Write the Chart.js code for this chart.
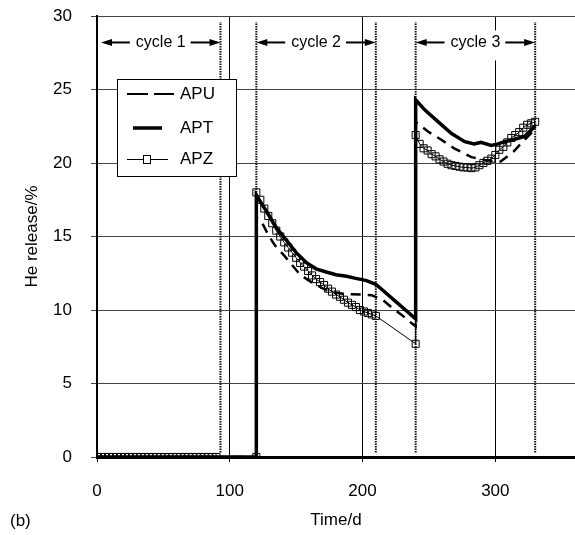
<!DOCTYPE html>
<html>
<head>
<meta charset="utf-8">
<title>He release</title>
<script src="https://cdn.jsdelivr.net/npm/chart.js@4.4.1/dist/chart.umd.min.js"></script>
<style>
  html, body { margin: 0; padding: 0; background: #fff; }
  #wrap { width: 575px; height: 535px; }
</style>
</head>
<body>
<div id="wrap"><canvas id="chart" width="575" height="535"></canvas></div>
<script>
const FONT = '"Liberation Sans", Arial, Helvetica, sans-serif';

// axis ticks
const xTicks = [0, 100, 200, 300];
const yTicks = [0, 5, 10, 15, 20, 25, 30];

// APZ (squares), read point by point
const apzDays = [
  0, 3, 6, 9, 12, 15, 18, 21, 24, 27, 30, 33, 36, 39, 42, 45, 48, 51, 54, 57, 60, 63, 66, 69, 72, 75, 78, 81, 84, 87, 90,
  120,
  120, 123, 126, 129, 132, 135, 138, 141, 144, 147, 150, 153, 156, 159, 162, 165, 168, 171, 174, 177, 180, 183, 186, 189, 192, 195, 198, 201, 204, 207, 210,
  240,
  240, 243, 246, 249, 252, 255, 258, 261, 264, 267, 270, 273, 276, 279, 282, 285, 288, 291, 294, 297, 300, 303, 306, 309, 312, 315, 318, 321, 324, 327, 330
];
const apzRelease = [
  0, 0, 0, 0, 0, 0, 0, 0, 0, 0, 0, 0, 0, 0, 0, 0, 0, 0, 0, 0, 0, 0, 0, 0, 0, 0, 0, 0, 0, 0, 0,
  0,
  18.0, 17.5, 16.9, 16.4, 15.9, 15.4, 15.0, 14.6, 14.25, 13.9, 13.55, 13.2, 12.95, 12.65, 12.35, 12.1, 11.9, 11.7, 11.45, 11.25, 11.05, 10.9, 10.7, 10.5, 10.35, 10.2, 10.0, 9.9, 9.8, 9.7, 9.6,
  7.7,
  21.9, 21.3, 21.0, 20.85, 20.6, 20.45, 20.25, 20.1, 19.95, 19.85, 19.8, 19.75, 19.7, 19.7, 19.65, 19.7, 19.85, 20.0, 20.15, 20.3, 20.55, 20.9, 21.1, 21.4, 21.7, 21.9, 22.1, 22.4, 22.6, 22.7, 22.8
];

// APT (thick solid line)
const aptDays = [0, 120, 120, 127, 135, 143, 150, 158, 165, 172, 180, 188, 195, 203, 210, 240,
  240, 247, 257, 267, 277, 284, 289, 297, 302, 307, 314, 322, 330];
const aptRelease = [0, 0, 17.8, 16.8, 15.6, 14.7, 13.9, 13.2, 12.8, 12.6, 12.4, 12.3, 12.15, 12.0, 11.75, 9.4,
  24.3, 23.6, 22.8, 22.0, 21.45, 21.3, 21.4, 21.2, 21.3, 21.45, 21.6, 21.8, 22.5];

// APU (dashed line)
const apuDays = [0, 120, 120, 124, 129, 134, 141, 153, 163, 175, 185, 200, 207, 215, 223, 229, 237, 240,
  240, 250, 259, 269, 282, 292, 304, 314, 319, 330];
const apuRelease = [0, 0, 16.3, 16.0, 15.1, 14.4, 13.7, 12.4, 11.8, 11.25, 11.1, 11.05, 11.0, 10.7, 10.1, 9.7, 9.1, 8.9,
  22.8, 22.1, 21.6, 21.0, 20.4, 20.2, 20.1, 20.8, 21.3, 22.3];

// cycle boundaries (dotted lines) and cycle labels
const cycleBounds = [93, 120, 210, 240, 330];
const cycleLabels = ['cycle 1', 'cycle 2', 'cycle 3'];
const cycleStart = [3, 120, 240];
const cycleEnd = [93, 210, 330];
const cycleArrowAt = 28.2;

const pts = (xs, ys) => xs.map((d, i) => ({ x: d, y: ys[i] }));

const boundSets = cycleBounds.map(b => ({
  label: '',
  data: [{ x: b, y: 0.3 }, { x: b, y: 29.6 }],
  borderColor: '#111',
  borderWidth: 2,
  borderDash: [1.5, 1],
  pointRadius: 0,
  order: 5,
  isBound: true
}));

function arrow(ctx, from, to, y) {
  const dir = Math.sign(to - from);
  ctx.lineWidth = 2;
  ctx.beginPath();
  ctx.moveTo(from, y);
  ctx.lineTo(to - dir * 8, y);
  ctx.stroke();
  ctx.beginPath();
  ctx.moveTo(to, y);
  ctx.lineTo(to - dir * 11, y - 3.5);
  ctx.lineTo(to - dir * 11, y + 3.5);
  ctx.closePath();
  ctx.fill();
}

const cyclePlugin = {
  id: 'cycles',
  afterDatasetsDraw(chart) {
    const { ctx, scales: { x, y } } = chart;
    ctx.save();
    ctx.font = '16px ' + FONT;
    ctx.textAlign = 'center';
    ctx.textBaseline = 'middle';
    const py = y.getPixelForValue(cycleArrowAt);
    cycleLabels.forEach((lab, i) => {
      const x0 = x.getPixelForValue(cycleStart[i]);
      const x1 = x.getPixelForValue(cycleEnd[i]);
      const cx = (x0 + x1) / 2;
      const w = ctx.measureText(lab).width;
      ctx.fillStyle = '#fff';
      ctx.fillRect(cx - w / 2 - 3, py - 12, w + 6, 30);
      ctx.fillStyle = '#000';
      ctx.strokeStyle = '#000';
      ctx.fillText(lab, cx, py);
      arrow(ctx, cx - w / 2 - 6, x0, py);
      arrow(ctx, cx + w / 2 + 5, x1, py);
    });
    ctx.restore();
  }
};

// boxed legend inside the plot
const legendPlugin = {
  id: 'boxLegend',
  afterDatasetsDraw(chart) {
    const { ctx } = chart;
    const sets = chart.data.datasets.filter(d => !d.isBound);
    const rowY = [94, 128, 159];
    ctx.save();
    ctx.fillStyle = '#fff';
    ctx.fillRect(117, 79, 120, 98);
    ctx.strokeStyle = '#000';
    ctx.lineWidth = 1;
    ctx.strokeRect(117.5, 79.5, 119, 97);
    ctx.font = '17px ' + FONT;
    ctx.textBaseline = 'middle';
    ctx.textAlign = 'left';
    sets.forEach((ds, i) => {
      const yy = rowY[i];
      ctx.save();
      ctx.strokeStyle = '#000';
      if (ds.label === 'APU') {
        ctx.lineWidth = 2;
        ctx.setLineDash([21, 6]);
        ctx.beginPath(); ctx.moveTo(127, yy); ctx.lineTo(174, yy); ctx.stroke();
      } else if (ds.label === 'APT') {
        ctx.lineWidth = 3.5;
        ctx.beginPath(); ctx.moveTo(133, yy); ctx.lineTo(162, yy); ctx.stroke();
      } else {
        ctx.lineWidth = 1;
        ctx.beginPath(); ctx.moveTo(127, yy + 0.5); ctx.lineTo(168, yy + 0.5); ctx.stroke();
        ctx.fillStyle = '#fff';
        ctx.fillRect(143, yy - 3.5, 8, 8);
        ctx.strokeRect(143.5, yy - 3.5, 7, 8);
      }
      ctx.restore();
      ctx.fillStyle = '#000';
      ctx.fillText(ds.label, 180, yy);
    });
    ctx.restore();
  }
};

const panelPlugin = {
  id: 'panel',
  afterDraw(chart) {
    const { ctx } = chart;
    ctx.save();
    ctx.font = '17px ' + FONT;
    ctx.fillStyle = '#000';
    ctx.textBaseline = 'middle';
    ctx.fillText('(b)', 10, 521);
    ctx.restore();
  }
};

new Chart(document.getElementById('chart').getContext('2d'), {
  type: 'line',
  data: {
    datasets: [
      {
        label: 'APU',
        data: pts(apuDays, apuRelease),
        borderColor: '#000',
        borderWidth: 2.5,
        borderDash: [10, 7],
        pointRadius: 0,
        tension: 0,
        order: 3
      },
      {
        label: 'APT',
        data: pts(aptDays, aptRelease),
        borderColor: '#000',
        borderWidth: 3.5,
        pointRadius: 0,
        tension: 0,
        order: 2
      },
      {
        label: 'APZ',
        data: pts(apzDays, apzRelease),
        borderColor: '#000',
        borderWidth: 1,
        pointStyle: 'rect',
        pointRadius: 5,
        pointBorderWidth: 1,
        pointBorderColor: '#000',
        pointBackgroundColor: 'rgba(255,255,255,0)',
        tension: 0,
        order: 1
      },
      ...boundSets
    ]
  },
  options: {
    responsive: false,
    animation: false,
    devicePixelRatio: 1,
    layout: { autoPadding: false, padding: { top: 16, right: 0, bottom: 0, left: 0 } },
    plugins: { legend: { display: false }, tooltip: { enabled: false } },
    scales: {
      x: {
        type: 'linear',
        min: 0,
        max: 360,
        afterBuildTicks: s => { s.ticks = xTicks.map(v => ({ value: v })); },
        afterFit: s => { s.height = 78; s.paddingLeft = 0; s.paddingRight = 0; },
        grid: { color: '#000', lineWidth: 1, tickLength: 5 },
        border: { color: '#000', width: 3 },
        ticks: { color: '#000', font: { family: FONT, size: 17 }, padding: 19, maxRotation: 0 },
        title: {
          display: true, text: 'Time/d', color: '#000',
          font: { family: FONT, size: 17 }, padding: { top: 0, bottom: 4 }
        }
      },
      y: {
        type: 'linear',
        min: 0,
        max: 30,
        afterBuildTicks: s => { s.ticks = yTicks.map(v => ({ value: v })); },
        afterFit: s => { s.width = 97; s.paddingTop = 0; s.paddingBottom = 0; },
        grid: { color: '#444', lineWidth: 1, tickLength: 6 },
        border: { color: '#000', width: 2 },
        ticks: { color: '#000', font: { family: FONT, size: 17 }, padding: 19 },
        title: {
          display: true, text: 'He release/%', color: '#000',
          font: { family: FONT, size: 17 }, padding: { top: 22, bottom: 0 }
        }
      }
    }
  },
  plugins: [cyclePlugin, legendPlugin, panelPlugin]
});
</script>
</body>
</html>
